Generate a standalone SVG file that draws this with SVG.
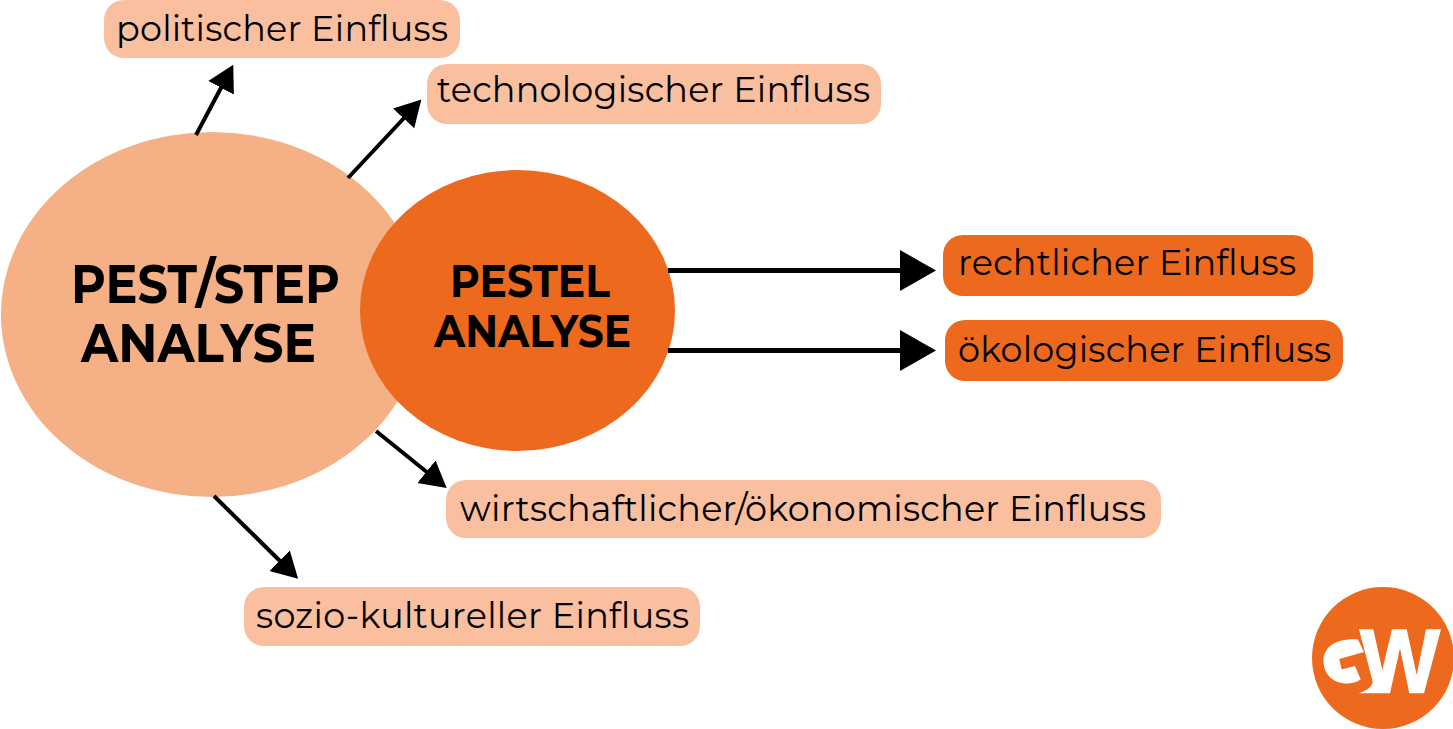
<svg xmlns="http://www.w3.org/2000/svg" width="1453" height="729" viewBox="0 0 1453 729">
<defs><style>
.l{font-family:Montserrat,"Open Sans","Noto Sans",sans-serif;font-size:35px;fill:#000}
.h{font-family:Montserrat,Inter,"Open Sans",sans-serif;font-weight:700;fill:#000}
.p{fill:#f9bf9f}.o{fill:#ed691d}
.c{stroke:#000;stroke-width:4;fill:none}
.d{stroke:#000;stroke-width:5;fill:none}
</style>
<marker id="a" markerUnits="userSpaceOnUse" markerWidth="28" markerHeight="30" refX="2" refY="15" orient="auto"><path d="M0 0.5L26 15L0 29.5Z"/></marker>
<marker id="b" markerUnits="userSpaceOnUse" markerWidth="38" markerHeight="42" refX="2" refY="20.5" orient="auto"><path d="M0 0L36 20.5L0 41Z"/></marker>
</defs>
<rect width="1453" height="729" fill="#fff"/>
<g id="node-pest"><ellipse cx="212" cy="314.5" rx="211" ry="182.5" fill="#f5b086"/><text class="h" x="71" y="303" font-size="54" textLength="269" lengthAdjust="spacingAndGlyphs">PEST/STEP</text><text class="h" x="81" y="362" font-size="54" textLength="235" lengthAdjust="spacingAndGlyphs">ANALYSE</text></g>
<g id="node-pestel"><ellipse cx="517.5" cy="310.5" rx="157.5" ry="140.5" class="o"/><text class="h" x="450" y="297" font-size="45" textLength="160" lengthAdjust="spacingAndGlyphs">PESTEL</text><text class="h" x="434" y="347" font-size="45" textLength="197" lengthAdjust="spacingAndGlyphs">ANALYSE</text></g>
<g id="connectors">
<path class="c" marker-end="url(#a)" d="M196 135L222 86"/>
<path class="c" marker-end="url(#a)" d="M348 178L405 117"/>
<path class="c" marker-end="url(#a)" d="M376 431L428 473"/>
<path class="c" marker-end="url(#a)" d="M214 496L281 562"/>
<path class="d" marker-end="url(#b)" d="M668 270.5H902"/>
<path class="d" marker-end="url(#b)" d="M668 350.5H902"/>
</g>
<g id="node-politisch"><rect x="104" y="0" width="356" height="58" rx="20" class="p"/><text class="l" x="116" y="41" textLength="332">politischer Einfluss</text></g>
<g id="node-tech"><rect x="427" y="64" width="454" height="60" rx="20" class="p"/><text class="l" x="437" y="102" textLength="433">technologischer Einfluss</text></g>
<g id="node-recht"><rect x="943" y="235" width="370" height="61" rx="20" class="o"/><text class="l" x="958" y="275" textLength="338">rechtlicher Einfluss</text></g>
<g id="node-oeko"><rect x="945" y="320" width="398" height="61" rx="20" class="o"/><text class="l" x="958" y="362" textLength="373">ökologischer Einfluss</text></g>
<g id="node-wirt"><rect x="446" y="480" width="715" height="58" rx="20" class="p"/><text class="l" x="460" y="521" textLength="686">wirtschaftlicher/ökonomischer Einfluss</text></g>
<g id="node-sozio"><rect x="244" y="587" width="456" height="59" rx="20" class="p"/><text class="l" x="256" y="628" textLength="433">sozio-kultureller Einfluss</text></g>
<g id="logo"><circle cx="1383" cy="658" r="71" class="o"/>
<path fill="#fff" d="M1359 629.3H1373.3L1382.3 670L1392 629.3H1406.7L1416.7 675L1426 629.3H1441L1424 693.3H1409.3L1400 648.3L1390 693.3H1358.3C1366 691 1372 687 1372.7 681.7Z"/>
<path fill="#fff" d="M1358 639.5C1336 638 1323.5 647 1323.5 661C1323.5 674 1333 683.5 1347 683.5C1352 683.5 1357 682 1360.7 679.5L1355 666L1341.7 669.5L1339.3 659L1364 652Z"/></g>
</svg>
